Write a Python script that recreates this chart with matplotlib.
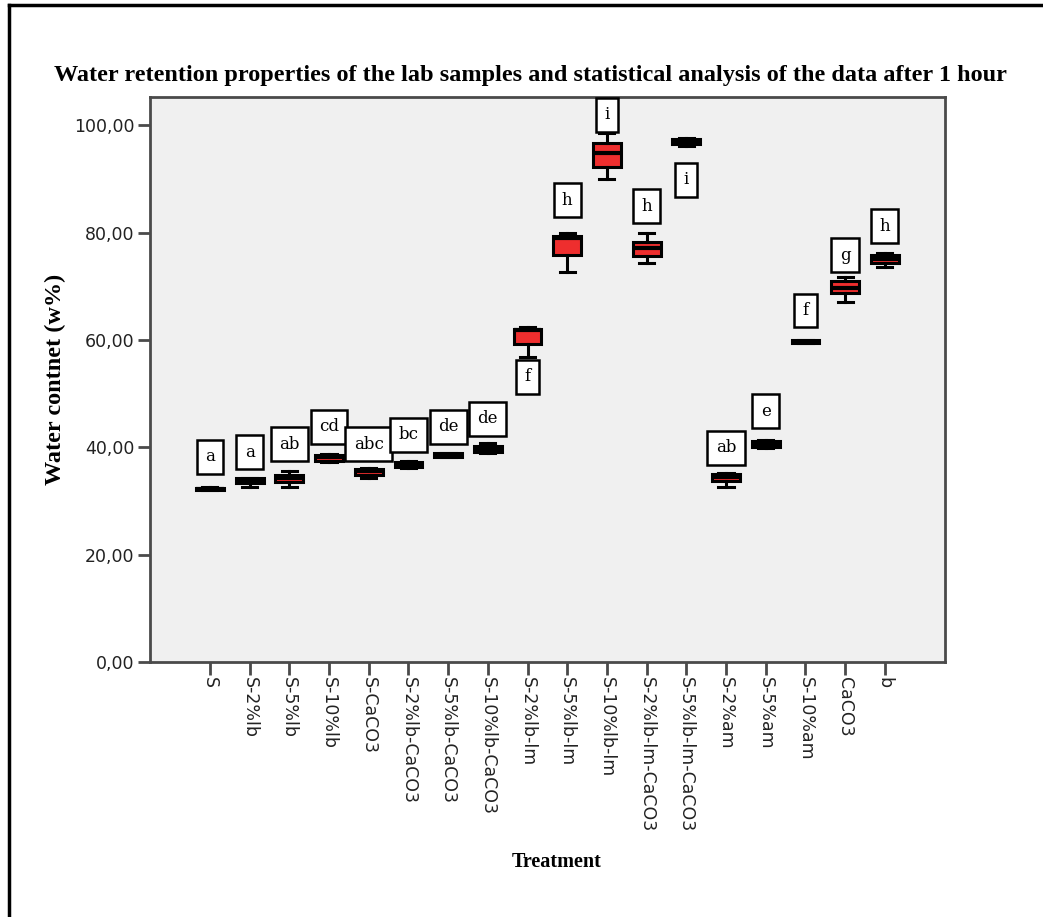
import matplotlib
matplotlib.use("Agg")
import matplotlib.pyplot as plt
from matplotlib.lines import Line2D
from matplotlib.ticker import FuncFormatter

treatments = ["S", "S-2%lb", "S-5%lb", "S-10%lb", "S-CaCO3", "S-2%lb-CaCO3",
              "S-5%lb-CaCO3", "S-10%lb-CaCO3", "S-2%lb-lm", "S-5%lb-lm",
              "S-10%lb-lm", "S-2%lb-lm-CaCO3", "S-5%lb-lm-CaCO3", "S-2%am",
              "S-5%am", "S-10%am", "CaCO3", "b"]

whislo = [32.0, 32.6, 32.6, 37.3, 34.3, 36.2, 38.1, 39.0, 56.8, 72.6, 89.9, 74.3, 96.2, 32.6, 39.9, 59.4, 67.0, 73.6]
q1     = [32.1, 33.3, 33.5, 37.5, 34.8, 36.4, 38.2, 39.1, 59.2, 75.8, 92.2, 75.6, 96.4, 33.7, 40.1, 59.5, 68.7, 74.3]
median = [32.3, 33.8, 34.3, 38.1, 35.5, 36.9, 38.6, 39.7, 61.8, 79.0, 94.8, 77.1, 96.9, 34.5, 40.7, 59.7, 69.6, 75.0]
q3     = [32.5, 34.2, 34.8, 38.6, 36.0, 37.3, 38.9, 40.3, 62.0, 79.3, 96.6, 78.2, 97.5, 35.1, 41.2, 59.9, 71.0, 75.8]
whishi = [32.6, 34.3, 35.6, 38.8, 36.2, 37.4, 39.0, 40.8, 62.4, 79.9, 98.5, 79.9, 97.6, 35.2, 41.3, 60.0, 71.7, 76.2]

letters = ["a", "a", "ab", "cd", "abc", "bc", "de", "de", "f", "h",
           "i", "h", "i", "ab", "e", "f", "g", "h"]
letter_y = [38.2, 39.1, 40.6, 43.8, 40.6, 42.3, 43.8, 45.3, 53.1, 86.0,
            101.9, 84.9, 89.8, 39.9, 46.7, 65.5, 75.8, 81.2]

fig = plt.figure(figsize=(10.43, 9.17), dpi=100)
ax = fig.add_axes([0.1438, 0.278, 0.762, 0.616])
ax.set_facecolor("#f0f0f0")

stats = []
for i in range(len(treatments)):
    stats.append({"whislo": whislo[i], "q1": q1[i], "med": median[i],
                  "q3": q3[i], "whishi": whishi[i], "fliers": []})

ax.bxp(stats, positions=range(len(treatments)), widths=0.7, patch_artist=True,
       showfliers=False,
       boxprops=dict(facecolor="#ee2e2e", edgecolor="black", linewidth=2.2),
       medianprops=dict(color="black", linewidth=3),
       whiskerprops=dict(color="black", linewidth=2.2),
       capprops=dict(color="black", linewidth=2.2), capwidths=0.38)

for i, (lab, ly) in enumerate(zip(letters, letter_y)):
    ax.text(i, ly, lab, ha="center", va="center", fontsize=12,
            family="DejaVu Serif", color="black", zorder=5,
            bbox=dict(boxstyle="square,pad=0.5", facecolor="white",
                      edgecolor="black", linewidth=1.8))

ax.set_xlim(-1.51, len(treatments) - 1 + 1.51)
ax.set_ylim(0, 105.2)
ax.set_yticks([0, 20, 40, 60, 80, 100])
ax.yaxis.set_major_formatter(FuncFormatter(lambda v, p: f"{v:.2f}".replace(".", ",")))
ax.set_xticks(range(len(treatments)))
ax.set_xticklabels(treatments, rotation=270, ha="center", va="top")

for s in ax.spines.values():
    s.set_color("#4a4a4a")
    s.set_linewidth(2)
ax.tick_params(axis="both", direction="out", length=9, width=2, color="#4a4a4a",
               labelsize=12.5, labelcolor="#222222", pad=2)
for t in ax.get_xticklabels() + ax.get_yticklabels():
    t.set_family("DejaVu Sans")

fig.text(0.509, 0.918,
         "Water retention properties of the lab samples and statistical analysis of the data after 1 hour",
         ha="center", va="center", fontsize=17.5, fontweight="bold", family="Liberation Serif")
fig.text(0.053, 0.586, "Water contnet (w%)", rotation=90, ha="center", va="center",
         fontsize=17.5, fontweight="bold", family="Liberation Serif")
fig.text(0.534, 0.06, "Treatment", ha="center", va="center",
         fontsize=14.5, fontweight="bold", family="Liberation Serif")

# outer frame (left and top edges only are visible)
fig.add_artist(Line2D([9 / 1043, 9 / 1043], [0, 1 - 5 / 917], color="black", linewidth=2.5))
fig.add_artist(Line2D([9 / 1043, 1], [1 - 5 / 917, 1 - 5 / 917], color="black", linewidth=2.5))

fig.savefig("out.png", dpi=100)
